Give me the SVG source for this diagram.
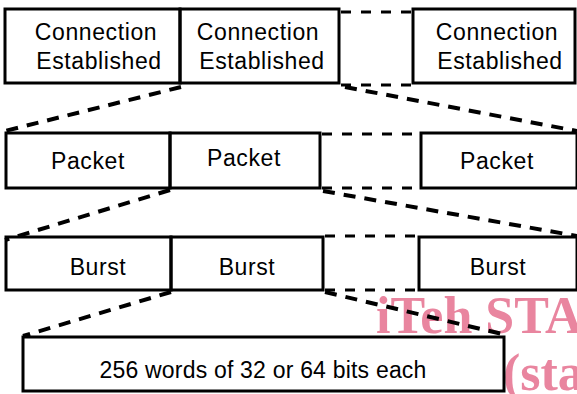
<svg xmlns="http://www.w3.org/2000/svg" width="577" height="394" viewBox="0 0 577 394">
  <style>
    .box { fill: none; stroke: #000; stroke-width: 3; }
    .lbl { font-family: "Liberation Sans", Arial, Helvetica, sans-serif; font-size: 23px; letter-spacing: 0.6px; fill: #000; text-anchor: middle; }
    .long { font-size: 23px; letter-spacing: 0.2px; }
    .gap { stroke: #000; stroke-width: 3; stroke-dasharray: 10 10; fill: none; }
    .zoom { stroke: #000; stroke-width: 4; stroke-dasharray: 12 9; fill: none; }
    .mark { font-family: "Liberation Serif", "Times New Roman", serif; font-weight: bold; font-size: 52px; fill: #e9859f; }
  </style>
  <rect width="577" height="394" fill="#fff"/>

  <!-- background stamp -->
  <g id="stamp">
    <text class="mark" x="376" y="333">iTeh STA</text>
    <text class="mark" x="503" y="390">(sta</text>
  </g>

  <!-- row 1: connections -->
  <g id="conn1">
    <rect class="box" x="5" y="9" width="175" height="74"/>
    <text class="lbl" x="96" y="40">Connection</text>
    <text class="lbl" x="99" y="69">Established</text>
  </g>
  <g id="conn2">
    <rect class="box" x="180" y="9" width="159" height="74"/>
    <text class="lbl" x="258" y="40">Connection</text>
    <text class="lbl" x="262" y="69">Established</text>
  </g>
  <g id="conn3">
    <rect class="box" x="413" y="9" width="162" height="74"/>
    <text class="lbl" x="497" y="40">Connection</text>
    <text class="lbl" x="500" y="69">Established</text>
  </g>

  <!-- row 2: packets -->
  <g id="packet1">
    <rect class="box" x="6" y="133" width="164" height="55"/>
    <text class="lbl" x="88" y="169">Packet</text>
  </g>
  <g id="packet2">
    <rect class="box" x="170" y="133" width="150" height="55"/>
    <text class="lbl" x="244" y="166">Packet</text>
  </g>
  <g id="packet3">
    <rect class="box" x="421" y="133" width="156" height="55"/>
    <text class="lbl" x="497" y="169">Packet</text>
  </g>

  <!-- row 3: bursts -->
  <g id="burst1">
    <rect class="box" x="6" y="237" width="165" height="53"/>
    <text class="lbl" x="98" y="275">Burst</text>
  </g>
  <g id="burst2">
    <rect class="box" x="171" y="237" width="152" height="53"/>
    <text class="lbl" x="247" y="275">Burst</text>
  </g>
  <g id="burst3">
    <rect class="box" x="419" y="237" width="158" height="53"/>
    <text class="lbl" x="498" y="275">Burst</text>
  </g>

  <!-- row 4: words -->
  <g id="words">
    <rect class="box" x="23" y="337" width="481" height="54"/>
    <text class="lbl long" x="263" y="378">256 words of 32 or 64 bits each</text>
  </g>

  <!-- connectors -->
  <g id="connectors">
    <line class="gap" x1="341" y1="12" x2="413" y2="12"/>
    <line class="gap" x1="341" y1="85" x2="413" y2="85"/>
    <line class="gap" x1="322" y1="134" x2="421" y2="134"/>
    <line class="gap" x1="322" y1="188" x2="421" y2="188"/>
    <line class="gap" x1="325" y1="236" x2="419" y2="236"/>
    <line class="gap" x1="325" y1="290" x2="419" y2="290"/>

    <line class="zoom" x1="181" y1="87" x2="5" y2="131"/>
    <line class="zoom" x1="345" y1="87" x2="577" y2="131"/>
    <line class="zoom" x1="170" y1="190" x2="5" y2="240"/>
    <line class="zoom" x1="323" y1="191" x2="577" y2="236"/>
    <line class="zoom" x1="171" y1="292" x2="23" y2="336"/>
    <line class="zoom" x1="325" y1="292" x2="502" y2="334"/>
  </g>
</svg>
